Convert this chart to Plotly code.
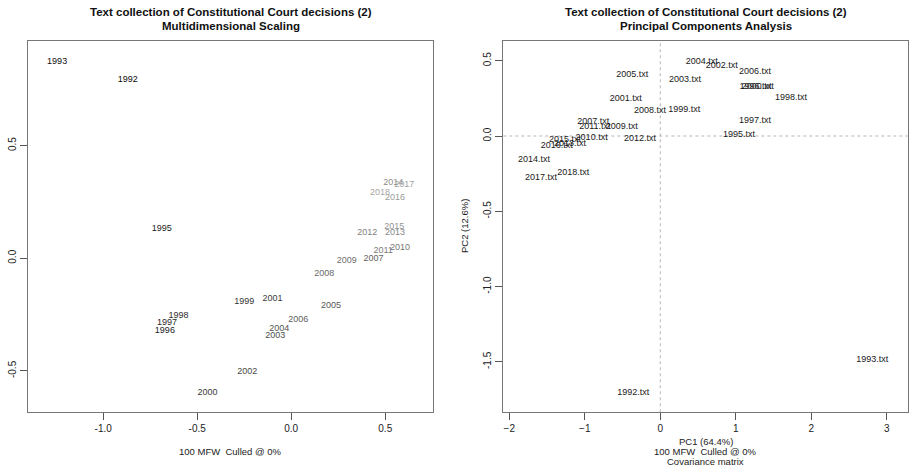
import plotly.graph_objects as go

# ---------------- data ----------------
mds_labels = ["1993", "1992", "1995", "1996", "1997", "1998", "1999", "2000", "2001",
              "2002", "2003", "2004", "2005", "2006", "2007", "2008", "2009", "2010",
              "2011", "2012", "2013", "2014", "2015", "2016", "2017", "2018"]
mds_x = [-1.245, -0.870, -0.688, -0.672, -0.661, -0.599, -0.250, -0.445, -0.099,
         -0.234, -0.085, -0.064, 0.211, 0.037, 0.438, 0.176, 0.295, 0.578,
         0.489, 0.404, 0.552, 0.543, 0.548, 0.552, 0.601, 0.472]
mds_y = [0.871, 0.790, 0.130, -0.321, -0.287, -0.255, -0.194, -0.597, -0.181,
         -0.502, -0.342, -0.312, -0.213, -0.272, -0.004, -0.068, -0.009, 0.047,
         0.034, 0.111, 0.111, 0.336, 0.140, 0.268, 0.324, 0.291]

pca_labels = ["2004.txt", "2002.txt", "2006.txt", "1996.txt", "2000.txt", "1998.txt",
              "1997.txt", "1995.txt", "2005.txt", "2003.txt", "2001.txt", "2008.txt",
              "1999.txt", "2007.txt", "2011.txt", "2009.txt", "2010.txt", "2012.txt",
              "2015.txt", "2013.txt", "2016.txt", "2014.txt", "2017.txt", "2018.txt",
              "1993.txt", "1992.txt"]
pca_x = [0.548, 0.813, 1.254, 1.262, 1.292, 1.731,
         1.254, 1.042, -0.371, 0.327, -0.458, -0.136,
         0.318, -0.887, -0.865, -0.511, -0.909, -0.269,
         -1.262, -1.196, -1.372, -1.673, -1.580, -1.152,
         2.808, -0.358]
pca_y = [0.491, 0.467, 0.425, 0.325, 0.325, 0.252,
         0.104, 0.009, 0.410, 0.372, 0.246, 0.171,
         0.173, 0.098, 0.064, 0.060, -0.013, -0.018,
         -0.027, -0.049, -0.066, -0.155, -0.274, -0.246,
         -1.485, -1.707]

title_line1 = "Text collection of Constitutional Court decisions (2)"
left_sub = "Multidimensional Scaling"
right_sub = "Principal Components Analysis"
left_xtitle = "100 MFW\u00a0 Culled @ 0%"
right_xtitle = ["PC1 (64.4%)", "100 MFW\u00a0 Culled @ 0%", "Covariance matrix"]
right_ytitle = "PC2 (12.6%)"

# ---------------- styling ----------------
W, H = 910, 470
FONT = "Liberation Sans, Arial, sans-serif"


def gray_for_year(label):
    yr = int(label[:4])
    t = (yr - 1992) / (2018 - 1992)
    v = int(round(10 + t * (165 - 10)))
    return f"rgb({v},{v},{v})"


def px_x(p):
    return p / W


def px_y(p):
    return 1 - p / H


fig = go.Figure()

fig.add_trace(go.Scatter(
    x=mds_x, y=mds_y, text=mds_labels, mode="text",
    textposition="middle center",
    textfont=dict(family=FONT, size=9, color=[gray_for_year(l) for l in mds_labels]),
    xaxis="x", yaxis="y", showlegend=False, hoverinfo="text"))

fig.add_trace(go.Scatter(
    x=pca_x, y=pca_y, text=pca_labels, mode="text",
    textposition="middle center",
    textfont=dict(family=FONT, size=9, color="#1a1a1a"),
    xaxis="x2", yaxis="y2", showlegend=False, hoverinfo="text"))

axis_common = dict(showgrid=False, zeroline=False, showline=True, mirror=True,
                   linecolor="#777777", linewidth=1, ticks="outside", ticklen=7,
                   tickcolor="#555555", tickwidth=1,
                   tickfont=dict(family=FONT, size=10, color="#222222"))

fig.update_layout(
    width=W, height=H,
    margin=dict(l=0, r=0, t=0, b=0),
    paper_bgcolor="white", plot_bgcolor="white",
    xaxis=dict(domain=[px_x(28), px_x(433)], range=[-1.40, 0.754],
               tickvals=[-1.0, -0.5, 0.0, 0.5], ticktext=["-1.0", "-0.5", "0.0", "0.5"],
               anchor="y", **axis_common),
    yaxis=dict(domain=[px_y(411.7), px_y(41)], range=[-0.681, 0.964],
               tickvals=[-0.5, 0.0, 0.5], ticktext=["-0.5", "0.0", "0.5"],
               tickangle=-90, anchor="x", **axis_common),
    xaxis2=dict(domain=[px_x(503.3), px_x(907.7)], range=[-2.079, 3.277],
                tickvals=[-2, -1, 0, 1, 2, 3], anchor="y2", **axis_common),
    yaxis2=dict(domain=[px_y(412.3), px_y(41)], range=[-1.835, 0.631],
                tickvals=[-1.5, -1.0, -0.5, 0.0, 0.5],
                ticktext=["-1.5", "-1.0", "-0.5", "0.0", "0.5"],
                tickangle=-90, anchor="x2", **axis_common),
)

# dashed reference lines at zero on PCA panel
fig.add_shape(type="line", xref="x2", yref="y2 domain", x0=0, x1=0, y0=0, y1=1,
              line=dict(color="#b5b5b5", width=1, dash="3px,3px"), layer="below")
fig.add_shape(type="line", xref="x2 domain", yref="y2", x0=0, x1=1, y0=0, y1=0,
              line=dict(color="#b5b5b5", width=1, dash="3px,3px"), layer="below")

annots = []
# titles
for cx, sub in [(230.5, left_sub), (705.5, right_sub)]:
    annots.append(dict(x=px_x(cx), y=px_y(12), xref="paper", yref="paper",
                       text=f"<b>{title_line1}</b>", showarrow=False,
                       font=dict(family=FONT, size=11.5, color="#111111"),
                       xanchor="center", yanchor="middle"))
    annots.append(dict(x=px_x(cx), y=px_y(26), xref="paper", yref="paper",
                       text=f"<b>{sub}</b>", showarrow=False,
                       font=dict(family=FONT, size=11.5, color="#111111"),
                       xanchor="center", yanchor="middle"))
# left x title
annots.append(dict(x=px_x(230.5), y=px_y(451), xref="paper", yref="paper",
                   text=left_xtitle, showarrow=False,
                   font=dict(family=FONT, size=9.5, color="#222222"),
                   xanchor="center", yanchor="middle"))
# right x titles
for i, t in enumerate(right_xtitle):
    annots.append(dict(x=px_x(705.5), y=px_y(441 + 10 * i), xref="paper", yref="paper",
                       text=t, showarrow=False,
                       font=dict(family=FONT, size=9.5, color="#222222"),
                       xanchor="center", yanchor="middle"))
# right y title
annots.append(dict(x=px_x(465), y=px_y(226), xref="paper", yref="paper",
                   text=right_ytitle, showarrow=False, textangle=-90,
                   font=dict(family=FONT, size=9.5, color="#222222"),
                   xanchor="center", yanchor="middle"))
fig.update_layout(annotations=annots)

fig.write_html("out.html")
